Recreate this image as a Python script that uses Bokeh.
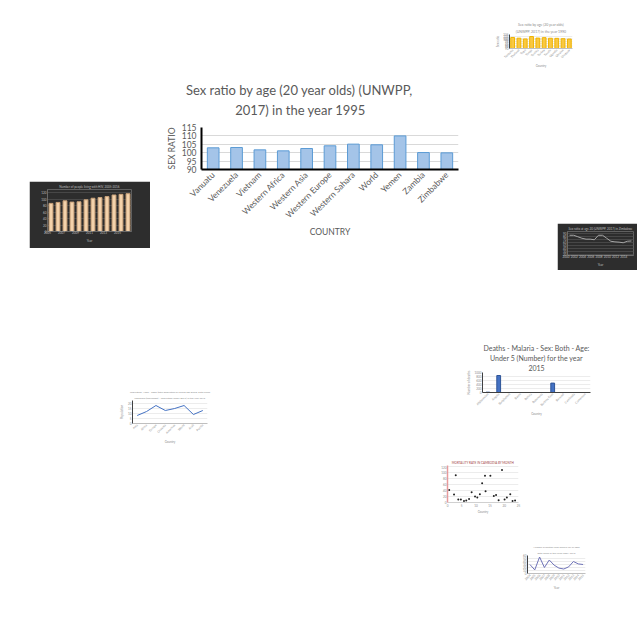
import math
from bokeh.plotting import figure
from bokeh.models import Range1d, FixedTicker, GridBox, Title
from bokeh.embed import file_html
from bokeh.resources import INLINE

# ---------------- main chart data ----------------
countries = ["Vanuatu", "Venezuela", "Vietnam", "Western Africa", "Western Asia",
             "Western Europe", "Western Sahara", "World", "Yemen", "Zambia", "Zimbabwe"]
sex_ratio = [102.9, 103.1, 101.7, 101.1, 102.5, 104.1, 105.1, 104.7, 110.0, 100.1, 99.9]
y_ticks = [90, 95, 100, 105, 110, 115]
main_title = ["Sex ratio by age (20 year olds) (UNWPP,", "2017) in the year 1995"]

# ---------------- thumbnail data ----------------
yellow_cats = ["Tanzania", "Thailand", "Togo", "Tonga", "Tunisia",
               "Turkey", "Tuvalu", "Uganda", "Ukraine", "Uruguay"]
yellow_vals = [102.6, 101.8, 100.9, 103.7, 101.9, 102.4, 101.7, 101.6, 101.2, 100.8]
yellow_title = ["Sex ratio by age (20 year olds)", "(UNWPP, 2017) in the year 1990"]

dark_years = [str(y) for y in range(2005, 2017)]
dark_vals = [87, 90, 95, 91, 92, 98, 103, 105, 108, 113, 115, 117]
dark_title = ["Number of people living with HIV, 2005-2016"]

line_dark_years = [str(y) for y in range(2000, 2016)]
line_dark_vals = [85, 85, 80, 75, 72, 72, 70, 85, 85, 75, 65, 63, 62, 60, 65, 66]
line_dark_title = ["Sex ratio at age 20 (UNWPP, 2017) in Zimbabwe"]

malaria_cats = ["Afghanistan", "Angola", "Bangladesh", "Benin", "Bolivia",
                "Botswana", "Burkina Faso", "Burundi", "Cambodia", "Cameroon"]
malaria_vals = [15, 850, 0, 0, 0, 0, 470, 0, 0, 0]
malaria_title = ["Deaths - Malaria - Sex: Both - Age:", "Under 5 (Number) for the year", "2015"]

blue_cats = ["Asia", "Africa", "Europe", "Oceania", "Americas", "World", "Arab", "Pacific"]
blue_vals = [8, 12, 18, 13, 15, 18, 9, 13]
blue_title = ["Population, 1950 - 2050 (total population by broad age group, both sexes",
              "combined (thousands) - Population under age 5) in the year 2015"]

scatter_x = [0.6, 2.3, 2.9, 3.8, 4.7, 5.8, 6.6, 7.6, 8.5, 9.7, 10.5, 11.4, 12.2,
             13.2, 13.4, 15.1, 16.3, 17.1, 18.0, 19.2, 20.1, 20.9, 22.1, 22.9, 23.8]
scatter_y = [42, 27, 92, 10, 10, 5, 7, 12, 35, 20, 17, 28, 65, 90, 38, 90, 22, 25, 8, 110, 10, 17, 28, 5, 7]
scatter_title = ["MORTALITY RATE IN CAMBODIA BY MONTH"]

purple_x = [str(y) for y in range(2004, 2016)]
purple_y = [30, 12, 55, 20, 45, 28, 18, 15, 22, 40, 32, 30]
purple_title = ["Number of deaths from malaria for all ages", "both sexes in the years 2004-2015"]

GRAY = "#595959"
FONT = "Lato"


def make(box, frame, xr, yr, bg="white"):
    left, top, w, h = box
    fx0, fy0, fx1, fy1 = frame
    f = figure(width=w, height=h, x_range=xr, y_range=yr, output_backend="svg",
               toolbar_location=None, min_border_left=fx0 - left, min_border_right=left + w - fx1,
               min_border_top=fy0 - top, min_border_bottom=top + h - fy1,
               background_fill_color=bg, border_fill_color=bg, outline_line_color=None)
    for ax in (f.xaxis[0], f.yaxis[0]):
        ax.major_tick_line_color = None
        ax.minor_tick_line_color = None
        ax.major_tick_out = 0
        ax.major_tick_in = 0
        ax.minor_tick_out = 0
        ax.minor_tick_in = 0
        ax.major_label_text_font = FONT
        ax.axis_label_text_font = FONT
        ax.axis_label_text_font_style = "normal"
    f.xgrid.grid_line_color = None
    return f


def categories(f, names, angle=0.0, step=1):
    f.xaxis.ticker = FixedTicker(ticks=list(range(0, len(names), step)))
    f.xaxis.major_label_overrides = {i: n for i, n in enumerate(names)}
    f.xaxis.major_label_orientation = angle


def titles(f, lines, size, color, standoff=2):
    # later titles stack above earlier ones, so add the last line first
    for i, line in enumerate(reversed(lines)):
        f.add_layout(Title(text=line, align="center", text_font_size=size,
                           text_color=color, text_font=FONT, text_font_style="normal",
                           standoff=standoff if i == 0 else 0), "above")


# ---------------- main title (its own strip, centred over the chart block) ----------------
TB = (144, 81, 310, 39)
head = figure(width=TB[2], height=TB[3], x_range=Range1d(0, 1), y_range=Range1d(0, 1),
              output_backend="svg", toolbar_location=None, min_border=0,
              x_axis_location=None, y_axis_location=None,
              outline_line_color=None, title=None)
head.grid.visible = False
# the block is left-aligned line by line, so the second line is indented to sit centred
indent = "\u2003\u2003\u2003\u00a0\u00a0\u00a0\u00a0\u00a0\u00a0"
head.add_layout(Title(text=main_title[0] + "\n" + indent + main_title[1], align="center",
                      text_font_size="13px", text_line_height=1.25,
                      text_color=GRAY, text_font=FONT, text_font_style="normal",
                      vertical_align="top", standoff=0), "above")

# ---------------- main chart ----------------
MB, MF = (155, 120, 320, 126), (201, 127, 458, 169)
n = len(countries)
p = make(MB, MF, Range1d(-0.5, n - 0.5), Range1d(90, 115))
p.vbar(x=list(range(n)), top=sex_ratio, bottom=90, width=0.5,
       fill_color="#a4c4e8", line_color="#5b9bd5", line_width=1)
categories(p, countries, math.pi / 4)
p.yaxis.ticker = FixedTicker(ticks=y_ticks)
for ax in (p.xaxis[0], p.yaxis[0]):
    ax.axis_line_color = "black"
    ax.axis_line_width = 2
    ax.major_label_text_color = GRAY
    ax.axis_label_text_color = GRAY
    ax.axis_label_text_font_size = "8.5px"
p.yaxis.major_label_text_font_size = "8.5px"
p.yaxis.axis_label = "SEX RATIO"
p.yaxis.axis_label_standoff = 2
p.yaxis.major_label_standoff = 5
p.xaxis.major_label_text_font_size = "8.5px"
p.xaxis.major_label_standoff = 4
p.xaxis.axis_label = "COUNTRY"
p.xaxis.axis_label_standoff = 1
p.ygrid.grid_line_color = "#d9d9d9"


def style_small(f, color="#8c8c8c", axis_col="#bfbfbf"):
    for ax in (f.xaxis[0], f.yaxis[0]):
        ax.major_label_text_font_size = "3px"
        ax.axis_label_text_font_size = "3px"
        ax.major_label_standoff = 1
        ax.axis_label_standoff = 1
        ax.major_label_text_color = color
        ax.axis_label_text_color = color
        ax.axis_line_color = axis_col
    f.ygrid.grid_line_color = "#ececec"


# yellow bars
B1, F1 = (492, 17, 85, 60), (504, 34, 572, 48)
t1 = make(B1, F1, Range1d(-0.5, len(yellow_cats) - 0.5), Range1d(90, 106))
style_small(t1)
t1.vbar(x=list(range(len(yellow_cats))), top=yellow_vals, bottom=90, width=0.6,
        fill_color="#f9c842", line_color="#f0b400")
categories(t1, yellow_cats, math.pi / 4)
t1.xaxis.axis_label = "Country"
t1.yaxis.axis_label = "Sex ratio"
t1.yaxis.axis_line_color = "#404040"
titles(t1, yellow_title, "3.5px", "#8c8c8c")

# dark bars
B2, F2 = (29, 181, 121, 67), (47, 189, 131, 231)
t2 = make(B2, F2, Range1d(-0.5, len(dark_years) - 0.5), Range1d(0, 130), bg="#2d2d2d")
style_small(t2, "#bfbfbf", "#6a6a6a")
t2.vbar(x=list(range(len(dark_years))), top=dark_vals, width=0.55,
        fill_color="#f3d2ab", line_color="#c9a27a")
categories(t2, dark_years, step=2)
t2.ygrid.grid_line_color = "#474747"
t2.xaxis.axis_label = "Year"
titles(t2, dark_title, "3px", "#bfbfbf")

# dark line
B3, F3 = (557, 223, 80, 47), (567, 230, 633, 260)
t3 = make(B3, F3, Range1d(-0.5, len(line_dark_years) - 0.5), Range1d(17.5, 97.5), bg="#2d2d2d")
style_small(t3, "#bfbfbf", "#6a6a6a")
t3.line(x=list(range(len(line_dark_years))), y=line_dark_vals, line_color="#a6a6a6", line_width=1)
categories(t3, line_dark_years, step=2)
t3.ygrid.grid_line_color = "#474747"
t3.xaxis.axis_label = "Year"
titles(t3, line_dark_title, "3px", "#bfbfbf")

# malaria bars
B4, F4 = (463, 338, 160, 82), (482, 372, 590, 392)
t4 = make(B4, F4, Range1d(-0.5, len(malaria_cats) - 0.5), Range1d(0, 1000))
style_small(t4, axis_col="#404040")
t4.vbar(x=list(range(len(malaria_cats))), top=malaria_vals, width=0.35,
        fill_color="#4472c4", line_color="#2f5597")
categories(t4, malaria_cats, math.pi / 4)
t4.yaxis.ticker = FixedTicker(ticks=[0, 200, 400, 600, 800, 1000])
t4.xaxis.axis_label = "Country"
t4.yaxis.axis_label = "Number of deaths"
titles(t4, malaria_title, "7px", GRAY, standoff=3)

# blue line
B5, F5 = (110, 387, 105, 68), (132, 400, 207, 423)
t5 = make(B5, F5, Range1d(-0.5, len(blue_cats) - 0.5), Range1d(0, 23))
style_small(t5)
t5.line(x=list(range(len(blue_cats))), y=blue_vals, line_color="#4472c4", line_width=1)
categories(t5, blue_cats, math.pi / 4)
t5.xaxis.axis_label = "Country"
t5.yaxis.axis_label = "Population"
t5.yaxis.axis_line_color = "#404040"
titles(t5, blue_title, "2.5px", "#8c8c8c")

# scatter
B6, F6 = (437, 457, 85, 60), (447, 463, 518, 505)
t6 = make(B6, F6, Range1d(0, 25), Range1d(0, 125))
style_small(t6, axis_col="#d0d0d0")
t6.scatter(x=scatter_x, y=scatter_y, size=2, fill_color="#222222", line_color=None)
t6.yaxis.axis_line_color = "#e89a9a"
t6.yaxis.axis_line_width = 1.5
t6.xaxis.axis_label = "Country"
titles(t6, scatter_title, "3px", "#a04040")

# purple line
B7, F7 = (520, 543, 70, 52), (527, 553, 585, 573)
t7 = make(B7, F7, Range1d(-0.5, len(purple_x) - 0.5), Range1d(0, 60))
style_small(t7)
t7.line(x=list(range(len(purple_x))), y=purple_y, line_color="#6f73b8", line_width=1)
categories(t7, purple_x, math.pi / 4)
t7.xaxis.axis_label = "Year"
t7.yaxis.axis_line_color = "#404040"
titles(t7, purple_title, "2.5px", "#8c8c8c")

boxes = [(head, TB), (p, MB), (t1, B1), (t2, B2), (t3, B3), (t4, B4), (t5, B5), (t6, B6), (t7, B7)]
xs = sorted({0, 640} | {b[0] for _, b in boxes} | {b[0] + b[2] for _, b in boxes})
ys = sorted({0, 640} | {b[1] for _, b in boxes} | {b[1] + b[3] for _, b in boxes})
children = []
for fig, (x, y, w, h) in boxes:
    c0, c1 = xs.index(x), xs.index(x + w)
    r0, r1 = ys.index(y), ys.index(y + h)
    children.append((fig, r0, c0, r1 - r0, c1 - c0))
grid = GridBox(children=children,
               cols=[f"{xs[i + 1] - xs[i]}px" for i in range(len(xs) - 1)],
               rows=[f"{ys[i + 1] - ys[i]}px" for i in range(len(ys) - 1)])

open("out.html", "w").write(file_html(grid, INLINE))
